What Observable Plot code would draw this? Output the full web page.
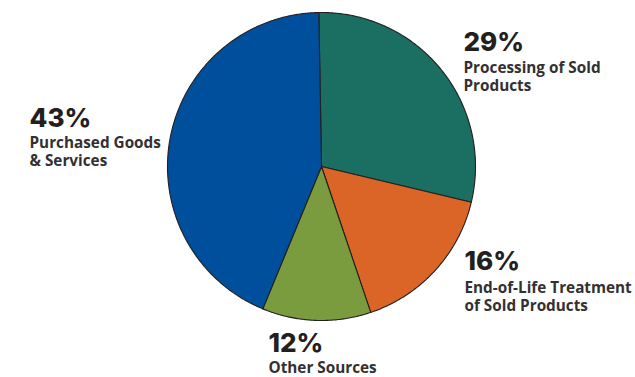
<!DOCTYPE html>
<html>
<head>
<meta charset="utf-8">
<script src="https://cdn.jsdelivr.net/npm/d3@7"></script>
<script src="https://cdn.jsdelivr.net/npm/@observablehq/plot@0.6"></script>
<style>
  html, body { margin: 0; padding: 0; background: #ffffff; }
  #chart { width: 635px; height: 377px; }
</style>
</head>
<body>
<div id="chart"></div>
<script>
// ---- data ----
const categories = ["Processing of Sold Products", "End-of-Life Treatment of Sold Products", "Other Sources", "Purchased Goods & Services"];
const values = [29, 16.1, 11.4, 43.5];
const percentLabels = ["29%", "16%", "12%", "43%"];
const nameLines = ["Processing of Sold\nProducts", "End-of-Life Treatment\nof Sold Products", "Other Sources", "Purchased Goods\n& Services"];
const colors = ["#1a6e62", "#db6527", "#7a9b3e", "#004f9d"];

// ---- layout (pixel space) ----
const W = 635, H = 377;
const cx = 321, cy = 166, R = 154;
const startAngle = -1 * Math.PI / 180;
// label anchors: [x, top of percent, top of name]
const labelPos = [[463, 32, 59], [464, 251.5, 279], [268, 333.5, 359], [29, 108.5, 134]];

const pie = d3.pie().sort(null).value(d => d.value).startAngle(startAngle).endAngle(startAngle + 2 * Math.PI);
const slices = pie(categories.map((name, i) => ({name, value: values[i]})));

const pts = [];
for (const s of slices) {
  const n = Math.max(2, Math.ceil((s.endAngle - s.startAngle) / (Math.PI / 360)));
  pts.push({name: s.data.name, x: cx, y: cy});
  for (let k = 0; k <= n; k++) {
    const a = s.startAngle + (s.endAngle - s.startAngle) * k / n;
    pts.push({name: s.data.name, x: cx + R * Math.sin(a), y: cy - R * Math.cos(a)});
  }
  pts.push({name: s.data.name, x: cx, y: cy});
}

const labels = categories.map((name, i) => ({
  name, pct: percentLabels[i], text: nameLines[i],
  x: labelPos[i][0], yp: labelPos[i][1], yn: labelPos[i][2]
}));

const chart = Plot.plot({
  width: W, height: H,
  margin: 0,
  x: {domain: [0, W], range: [0, W], axis: null},
  y: {domain: [0, H], range: [0, H], axis: null},
  color: {domain: categories, range: colors},
  style: {background: "#ffffff", overflow: "visible"},
  marks: [
    Plot.line(pts, {x: "x", y: "y", z: "name", fill: "name", stroke: "#231f20", strokeWidth: 1.1, strokeLinejoin: "round"}),
    Plot.text(labels, {x: "x", y: "yp", text: "pct", textAnchor: "start", lineAnchor: "top", fontSize: 26, fontWeight: 800, fontFamily: "Inter, 'Open Sans', sans-serif", fill: "#231f20"}),
    Plot.text(labels, {x: "x", y: "yn", text: "text", textAnchor: "start", lineAnchor: "top", fontSize: 15.3, lineHeight: 1.2, fontWeight: 700, fontFamily: "'Open Sans', Lato, sans-serif", fill: "#333031"})
  ]
});
document.getElementById("chart").appendChild(chart);
</script>
</body>
</html>
